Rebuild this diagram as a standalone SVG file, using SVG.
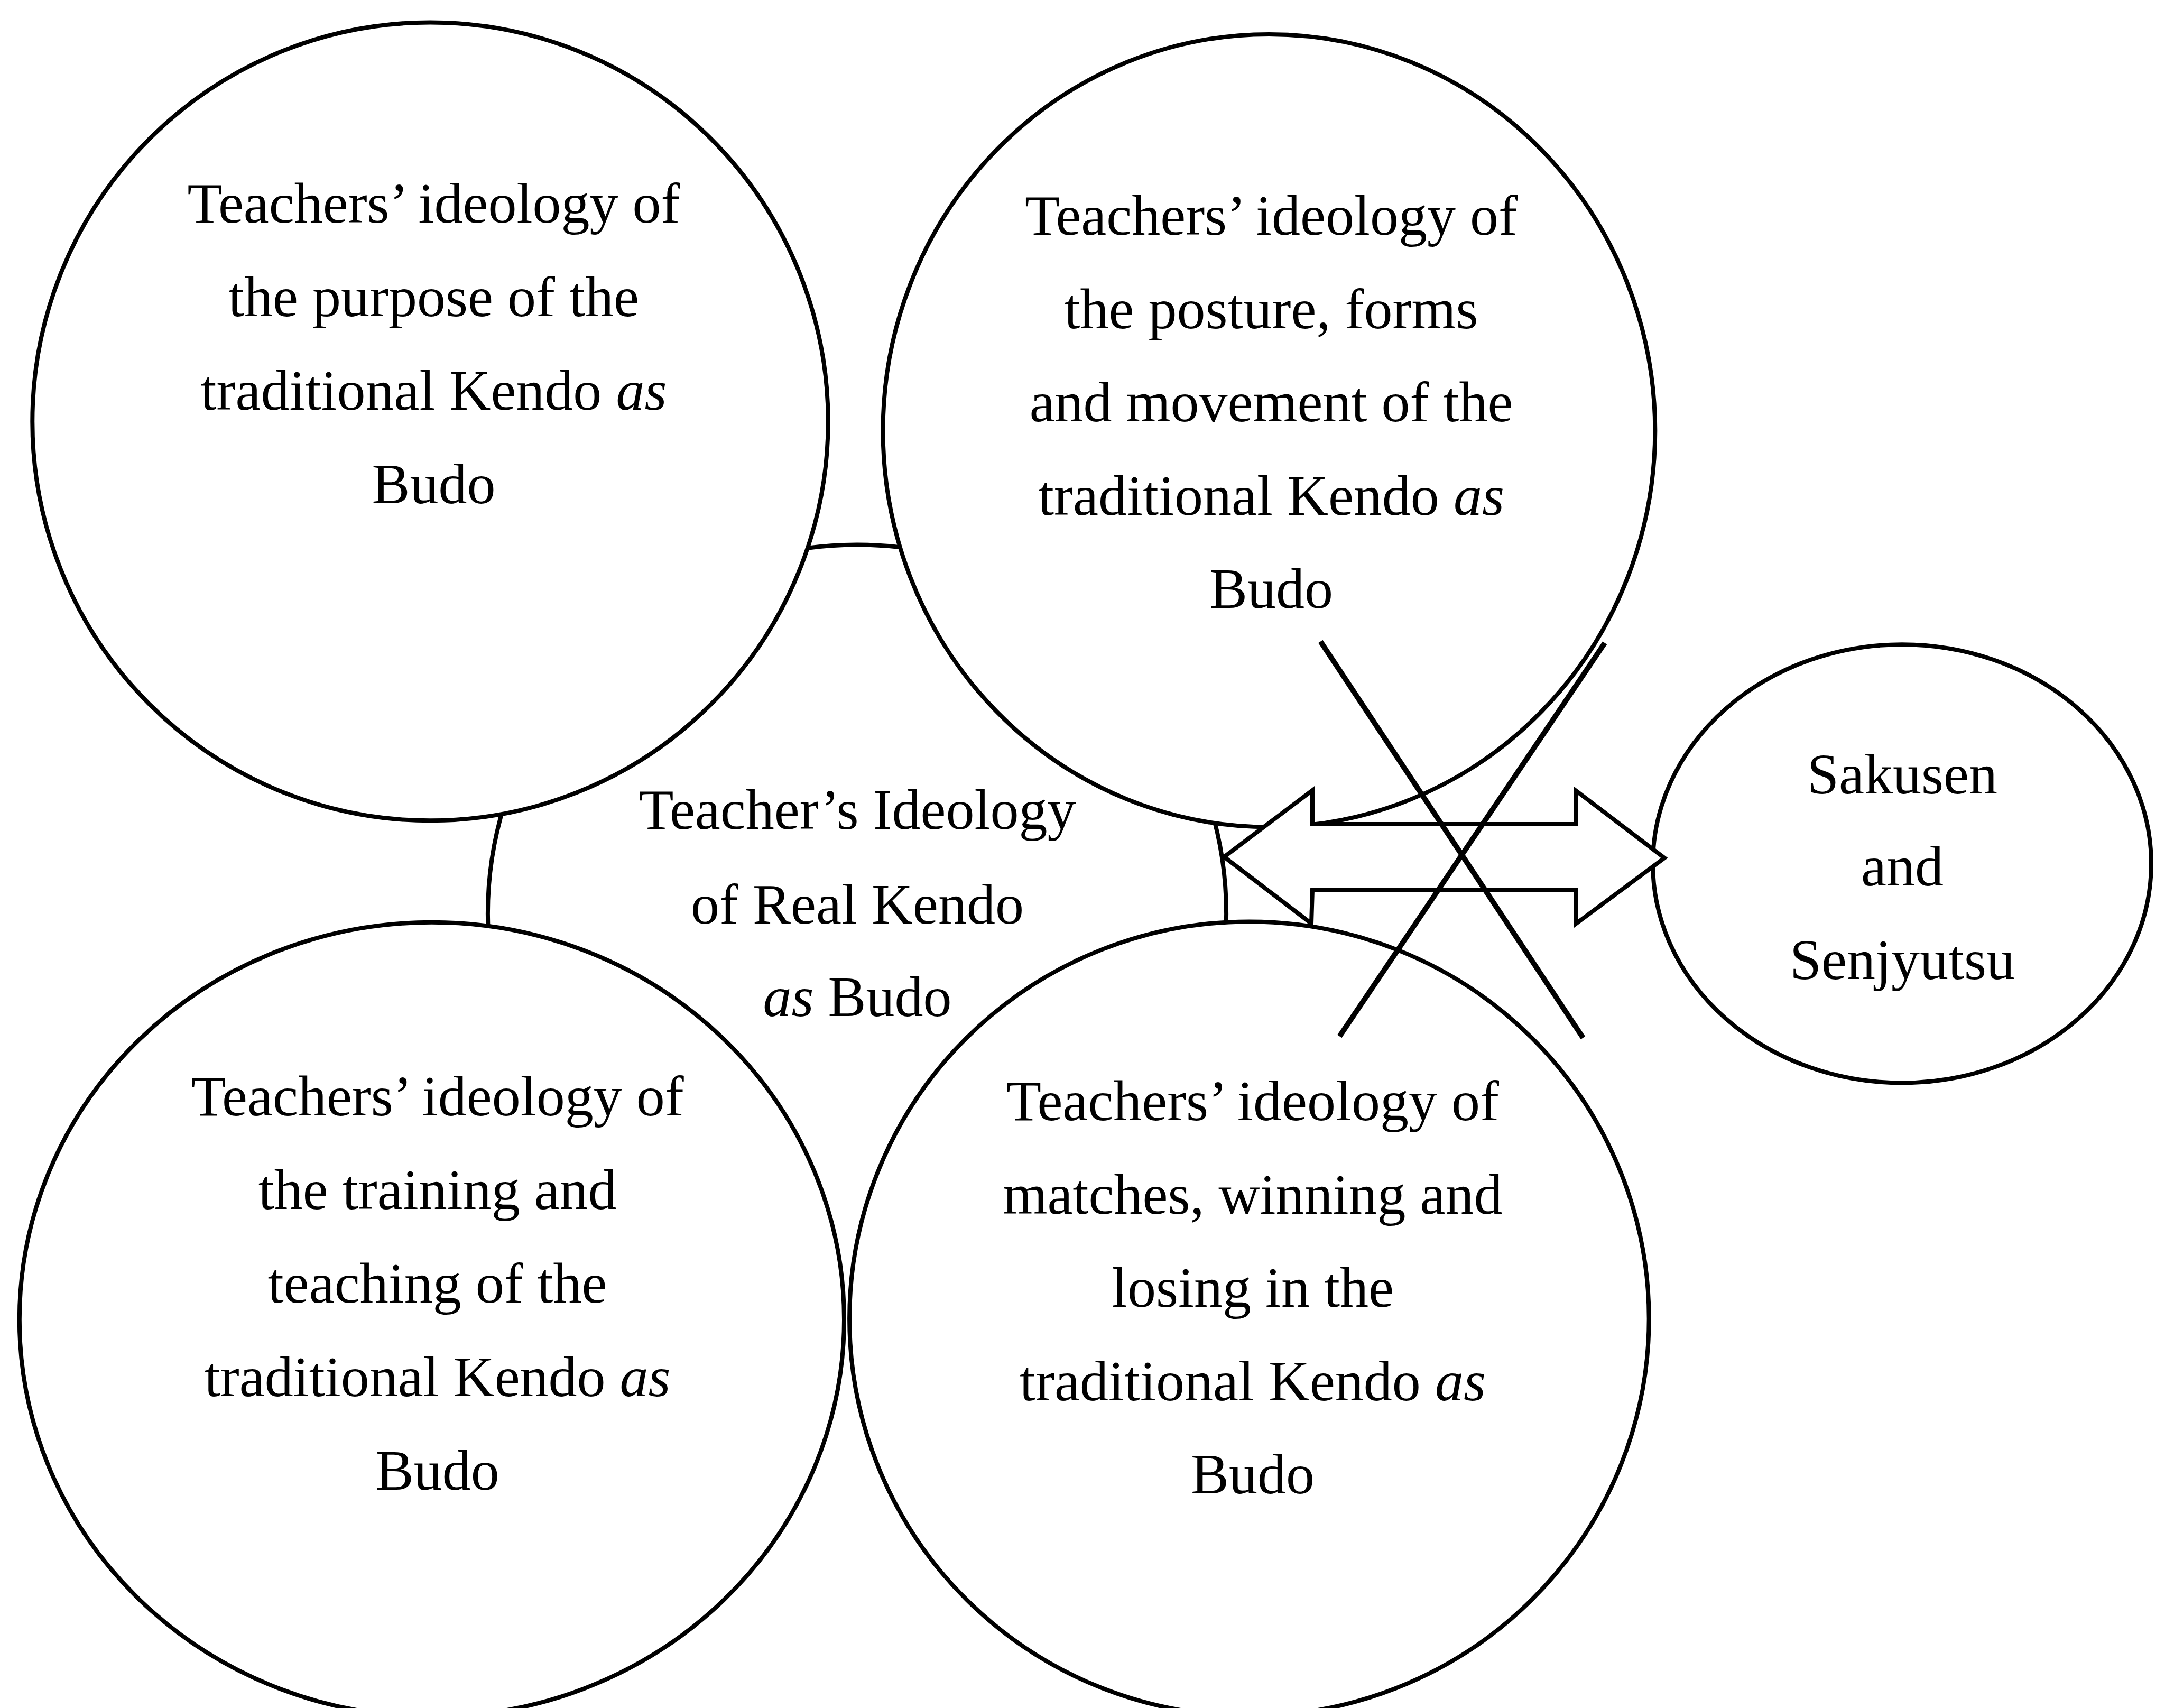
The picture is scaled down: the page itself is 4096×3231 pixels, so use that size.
<svg xmlns="http://www.w3.org/2000/svg" width="4096" height="3231" viewBox="0 0 4096 3231">
<defs>
  <clipPath id="centerClip"><rect x="0" y="0" width="4096" height="2300"/></clipPath>
</defs>
<style>
.node { fill: #ffffff; stroke: #000000; stroke-width: 8; }
.lbl { font-family: "Liberation Serif", "Times New Roman", serif; font-size: 108px; fill: #000000; text-anchor: middle; }
.it { font-style: italic; }
.arrow { fill: #ffffff; stroke: #000000; stroke-width: 8; stroke-linejoin: miter; }
.cross { stroke: #000000; stroke-width: 10; stroke-linecap: butt; fill: none; }
</style>
<rect x="0" y="0" width="4096" height="3231" fill="#ffffff"/>

<g id="node-center">
  <circle class="node" cx="1621.5" cy="1729" r="698.6" clip-path="url(#centerClip)"/>
  <text class="lbl" x="1622" y="1568">Teacher’s Ideology</text>
  <text class="lbl" x="1622" y="1747">of Real Kendo</text>
  <text class="lbl" x="1622" y="1922"><tspan class="it">as</tspan> Budo</text>
</g>

<g id="node-purpose">
  <ellipse class="node" cx="814" cy="797.4" rx="752.7" ry="754.9"/>
  <text class="lbl" x="820.5" y="421">Teachers’ ideology of</text>
  <text class="lbl" x="820.5" y="598">the purpose of the</text>
  <text class="lbl" x="820.5" y="775">traditional Kendo <tspan class="it">as</tspan></text>
  <text class="lbl" x="820.5" y="952">Budo</text>
</g>

<g id="node-posture">
  <ellipse class="node" cx="2400.9" cy="814.7" rx="730.4" ry="749.8"/>
  <text class="lbl" x="2405" y="444">Teachers’ ideology of</text>
  <text class="lbl" x="2405" y="620.6">the posture, forms</text>
  <text class="lbl" x="2405" y="797.2">and movement of the</text>
  <text class="lbl" x="2405" y="973.8">traditional Kendo <tspan class="it">as</tspan></text>
  <text class="lbl" x="2405" y="1150.4">Budo</text>
</g>

<g id="node-training">
  <ellipse class="node" cx="816.9" cy="2496.1" rx="780.1" ry="751.3"/>
  <text class="lbl" x="827.7" y="2110">Teachers’ ideology of</text>
  <text class="lbl" x="827.7" y="2287">the training and</text>
  <text class="lbl" x="827.7" y="2464">teaching of the</text>
  <text class="lbl" x="827.7" y="2641">traditional Kendo <tspan class="it">as</tspan></text>
  <text class="lbl" x="827.7" y="2818">Budo</text>
</g>

<g id="node-matches">
  <ellipse class="node" cx="2363.4" cy="2494.7" rx="756.3" ry="751.3"/>
  <text class="lbl" x="2370" y="2119">Teachers’ ideology of</text>
  <text class="lbl" x="2370" y="2295.5">matches, winning and</text>
  <text class="lbl" x="2370" y="2472">losing in the</text>
  <text class="lbl" x="2370" y="2648.5">traditional Kendo <tspan class="it">as</tspan></text>
  <text class="lbl" x="2370" y="2825">Budo</text>
</g>

<g id="node-sakusen">
  <ellipse class="node" cx="3598.5" cy="1633.8" rx="471.5" ry="414.6"/>
  <text class="lbl" x="3599" y="1501">Sakusen</text>
  <text class="lbl" x="3599" y="1675">and</text>
  <text class="lbl" x="3599" y="1852">Senjyutsu</text>
</g>

<g id="connectors">
  <polygon class="arrow" points="2316,1621 2483,1495 2483,1559 2982,1559 2982,1496 3149,1623 2982,1747 2982,1684 2483,1683 2481,1747"/>
  <line class="cross" x1="2498.3" y1="1213.4" x2="2995" y2="1963.3"/>
  <line class="cross" x1="3036.1" y1="1216.3" x2="2534.3" y2="1960.4"/>
</g>
</svg>
